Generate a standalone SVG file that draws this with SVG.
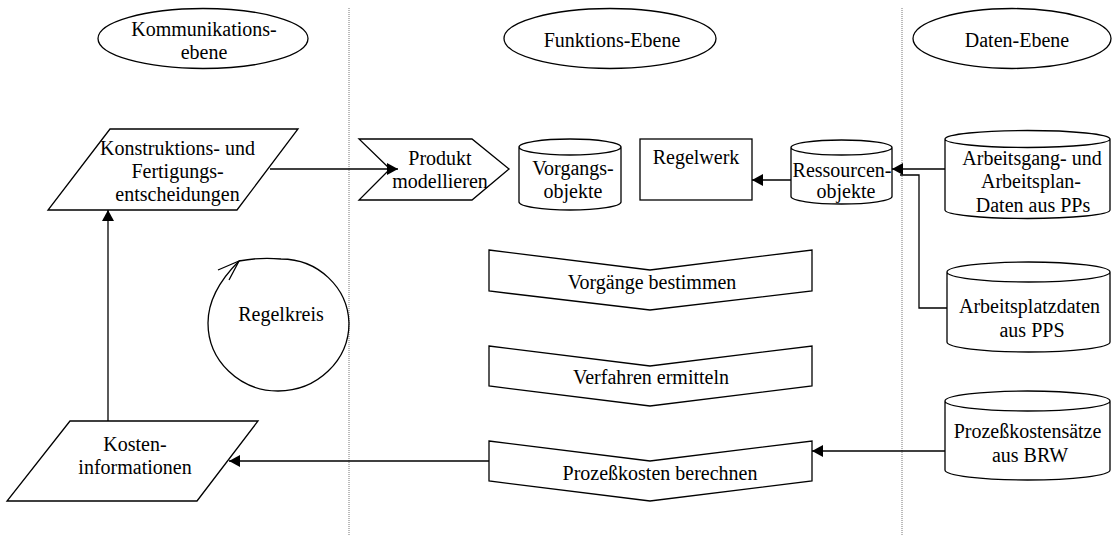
<svg xmlns="http://www.w3.org/2000/svg" width="1112" height="536" viewBox="0 0 1112 536">
  <style>
    .shape { fill: #ffffff; stroke: #000000; stroke-width: 1.3; }
    .lbl { font-family: 'Liberation Serif', 'Times New Roman', Times, Tinos, 'Noto Serif', 'DejaVu Serif', FreeSerif, serif; font-size: 20px; fill: #000000; text-anchor: middle; }
    .conn { fill: none; stroke: #000000; stroke-width: 1.3; }
    .lane { stroke: #777777; stroke-width: 1; stroke-dasharray: 1 1; }
  </style>
  <defs>
    <marker id="arrow" markerUnits="userSpaceOnUse" markerWidth="12" markerHeight="13" refX="11" refY="6" orient="auto">
      <path d="M0,0 L11,6 L0,12 z" fill="#000000"/>
    </marker>
  </defs>
  <rect width="1112" height="536" fill="#ffffff"/>

  <!-- lane separators -->
  <g id="lanes">
    <line class="lane" x1="349" y1="8" x2="349" y2="536"/>
    <line class="lane" x1="902" y1="8" x2="902" y2="536"/>
  </g>

  <!-- lane headers -->
  <g id="hdr-kommunikation">
    <ellipse class="shape" cx="203" cy="38.5" rx="105" ry="30"/>
    <text class="lbl" x="204" y="36">Kommunikations-</text>
    <text class="lbl" x="204" y="59">ebene</text>
  </g>
  <g id="hdr-funktion">
    <ellipse class="shape" cx="610" cy="38.5" rx="106" ry="30"/>
    <text class="lbl" x="612" y="47">Funktions-Ebene</text>
  </g>
  <g id="hdr-daten">
    <ellipse class="shape" cx="1012" cy="38.5" rx="99" ry="30"/>
    <text class="lbl" x="1017" y="47">Daten-Ebene</text>
  </g>

  <!-- Kommunikationsebene -->
  <g id="konstruktion">
    <polygon class="shape" points="110,129 298,129 237,210 48,210"/>
    <text class="lbl" x="177.5" y="155">Konstruktions- und</text>
    <text class="lbl" x="177.5" y="178">Fertigungs-</text>
    <text class="lbl" x="177.5" y="201">entscheidungen</text>
  </g>
  <g id="kosteninfo">
    <polygon class="shape" points="70,421 258,421 197,501 7,501"/>
    <text class="lbl" x="135" y="451">Kosten-</text>
    <text class="lbl" x="135" y="474">informationen</text>
  </g>
  <g id="regelkreis">
    <!-- control loop: open circle ending in an arrowhead at the upper left -->
    <path class="conn" d="M239,261 Q260,257 281,259 A68,66 0 0 1 349,323 A71,68 0 0 1 278,391 A70,68 0 0 1 208,323 C208,300 221,279 239,261"/>
    <path class="conn" d="M218,270 L239,261 L229,280"/>
    <text class="lbl" x="281" y="321">Regelkreis</text>
  </g>

  <!-- Funktions-Ebene -->
  <g id="produkt">
    <polygon class="shape" points="359,139 472,139 509,169 472,200 359,200 390,169"/>
    <text class="lbl" x="440" y="165">Produkt</text>
    <text class="lbl" x="440" y="188">modellieren</text>
  </g>
  <g id="vorgangsobjekte">
    <path class="shape" d="M519,147 V202 A51,8 0 0 0 621,202 V147 A51,8 0 0 0 519,147 A51,8 0 0 0 621,147"/>
    <text class="lbl" x="573" y="175">Vorgangs-</text>
    <text class="lbl" x="573" y="198">objekte</text>
  </g>
  <g id="regelwerk">
    <rect class="shape" x="640" y="139" width="112" height="61"/>
    <text class="lbl" x="696" y="164">Regelwerk</text>
  </g>
  <g id="ressourcen">
    <path class="shape" d="M791,147.5 V196.5 A50.5,7.5 0 0 0 892,196.5 V147.5 A50.5,7.5 0 0 0 791,147.5 A50.5,7.5 0 0 0 892,147.5"/>
    <text class="lbl" x="842" y="177">Ressourcen-</text>
    <text class="lbl" x="846" y="198">objekte</text>
  </g>
  <g id="vorgaenge">
    <polygon class="shape" points="489,250 650,270 812,250 812,291 650,310 489,291"/>
    <text class="lbl" x="652" y="289">Vorgänge bestimmen</text>
  </g>
  <g id="verfahren">
    <polygon class="shape" points="489,346 650,366 812,346 812,386 650,406 489,386"/>
    <text class="lbl" x="651" y="384">Verfahren ermitteln</text>
  </g>
  <g id="prozesskosten">
    <polygon class="shape" points="489,441 650,461 812,441 812,481 650,501 489,481"/>
    <text class="lbl" x="660" y="480">Prozeßkosten berechnen</text>
  </g>

  <!-- Daten-Ebene -->
  <g id="arbeitsgang">
    <path class="shape" d="M945,139 V210 A82.5,8.5 0 0 0 1110,210 V139 A82.5,8.5 0 0 0 945,139 A82.5,8.5 0 0 0 1110,139"/>
    <text class="lbl" x="1032" y="165">Arbeitsgang- und</text>
    <text class="lbl" x="1031" y="188">Arbeitsplan-</text>
    <text class="lbl" x="1033" y="212">Daten aus PPs</text>
  </g>
  <g id="arbeitsplatz">
    <path class="shape" d="M947,272 V342 A81.5,10 0 0 0 1110,342 V272 A81.5,10 0 0 0 947,272 A81.5,10 0 0 0 1110,272"/>
    <text class="lbl" x="1029.5" y="313">Arbeitsplatzdaten</text>
    <text class="lbl" x="1032" y="337">aus PPS</text>
  </g>
  <g id="kostensaetze">
    <path class="shape" d="M945,401 V470 A82.5,10 0 0 0 1110,470 V401 A82.5,10 0 0 0 945,401 A82.5,10 0 0 0 1110,401"/>
    <text class="lbl" x="1027.5" y="438">Prozeßkostensätze</text>
    <text class="lbl" x="1030" y="462">aus BRW</text>
  </g>

  <!-- connectors -->
  <g id="connectors">
    <line class="conn" x1="270" y1="169" x2="398" y2="169" marker-end="url(#arrow)"/>
    <line class="conn" x1="108" y1="421" x2="108" y2="210" marker-end="url(#arrow)"/>
    <line class="conn" x1="791" y1="180" x2="752" y2="180" marker-end="url(#arrow)"/>
    <line class="conn" x1="945" y1="169" x2="892" y2="169" marker-end="url(#arrow)"/>
    <polyline class="conn" points="947,308 919,308 919,175 900,175"/>
    <line class="conn" x1="945" y1="451" x2="812" y2="451" marker-end="url(#arrow)"/>
    <line class="conn" x1="489" y1="461" x2="229" y2="461" marker-end="url(#arrow)"/>
  </g>
</svg>
